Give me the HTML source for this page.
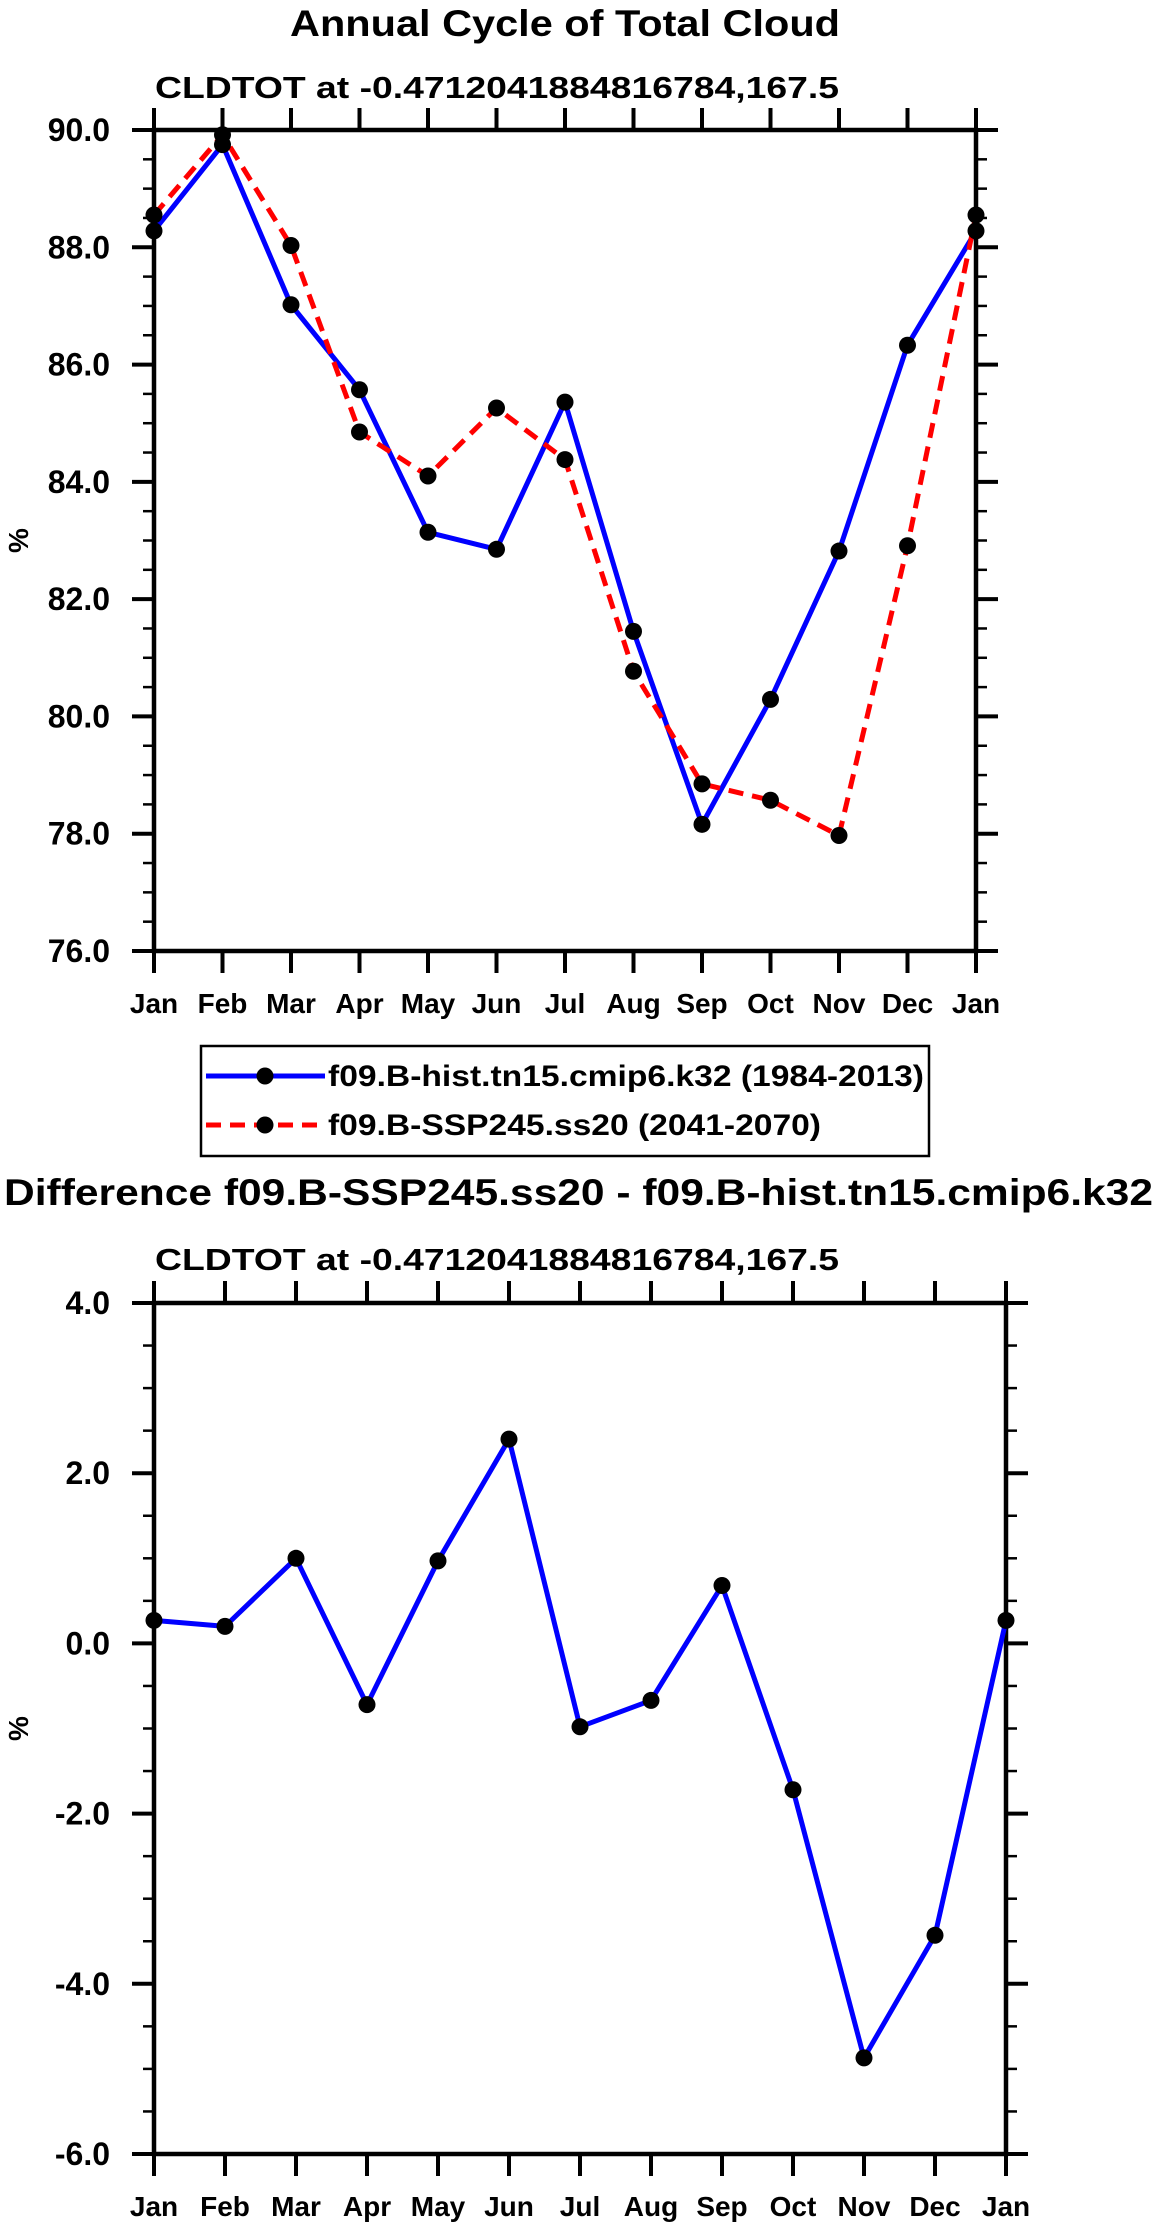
<!DOCTYPE html>
<html><head><meta charset="utf-8"><style>
html,body{margin:0;padding:0;background:#fff;}
svg{display:block;font-family:"Liberation Sans",sans-serif;font-weight:bold;}
</style></head><body>
<svg id="fig" width="1161" height="2231" viewBox="0 0 1161 2231" xmlns="http://www.w3.org/2000/svg">
<text x="565" y="36" font-size="37" text-anchor="middle" textLength="550" lengthAdjust="spacingAndGlyphs">Annual Cycle of Total Cloud</text>
<text x="155" y="98" font-size="31" textLength="684" lengthAdjust="spacingAndGlyphs">CLDTOT at -0.4712041884816784,167.5</text>
<g id="top"></g>
<g>
<rect x="201" y="1046" width="728" height="110" fill="none" stroke="#000" stroke-width="2.5"/>
<line x1="206" y1="1076" x2="325" y2="1076" stroke="#0000ff" stroke-width="5"/>
<circle cx="265" cy="1076" r="8.5" fill="#000"/>
<text x="328" y="1086" font-size="30" textLength="596" lengthAdjust="spacingAndGlyphs">f09.B-hist.tn15.cmip6.k32 (1984-2013)</text>
<line x1="206" y1="1125" x2="325" y2="1125" stroke="#ff0000" stroke-width="5" stroke-dasharray="15 9"/>
<circle cx="265" cy="1125" r="8.5" fill="#000"/>
<text x="328" y="1135" font-size="30" textLength="493" lengthAdjust="spacingAndGlyphs">f09.B-SSP245.ss20 (2041-2070)</text>
</g>
<text x="4" y="1205" font-size="37" textLength="1149" lengthAdjust="spacingAndGlyphs">Difference f09.B-SSP245.ss20 - f09.B-hist.tn15.cmip6.k32</text>
<text x="155" y="1270" font-size="31" textLength="684" lengthAdjust="spacingAndGlyphs">CLDTOT at -0.4712041884816784,167.5</text>
<g id="bot"></g>
</svg>
<script>
const months = ["Jan","Feb","Mar","Apr","May","Jun","Jul","Aug","Sep","Oct","Nov","Dec","Jan"];
const histValues = [88.28,89.75,87.02,85.57,83.14,82.85,85.36,81.45,78.16,80.29,82.82,86.33,88.28];
const sspValues = [88.55,89.92,88.03,84.85,84.1,85.26,84.38,80.77,78.85,78.57,77.97,82.91,88.55];
const diffValues = [0.27,0.2,1.0,-0.72,0.97,2.4,-0.98,-0.67,0.68,-1.72,-4.87,-3.43,0.27];
const topYTicks = [76,78,80,82,84,86,88,90];
const botYTicks = [-6,-4,-2,0,2,4];
const NS="http://www.w3.org/2000/svg";
function mk(parent,tag,attrs){const e=document.createElementNS(NS,tag);for(const k in attrs)e.setAttribute(k,attrs[k]);parent.appendChild(e);return e;}
function chart(g,L,R,T,B,ymin,ymax,yticks,series,prefix){
  const xs=i=>L+(R-L)*i/(months.length-1);
  const ys=v=>T+(ymax-v)/(ymax-ymin)*(B-T);
  // minor ticks
  for(let v=ymin;v<=ymax+1e-9;v+=0.5){
    const y=ys(v);
    const l1=mk(g,'line',{x1:L-11,y1:y,x2:L,y2:y,stroke:'#000','stroke-width':2.5});
    
    
    const l2=mk(g,'line',{x1:R,y1:y,x2:R+11,y2:y,stroke:'#000','stroke-width':2.5});
    
    
  }
  yticks.forEach(v=>{
    const y=ys(v);
    const l=mk(g,'line',{x1:L-22,y1:y,x2:L,y2:y,stroke:'#000','stroke-width':4});
    
    
    const r=mk(g,'line',{x1:R,y1:y,x2:R+22,y2:y,stroke:'#000','stroke-width':4});
    
    
    const t=mk(g,'text',{x:110,y:y+11,'font-size':32,'text-anchor':'end'});
    t.textContent=v.toFixed(1);
    
    
  });
  months.forEach((m,i)=>{
    const x=xs(i);
    const b=mk(g,'line',{x1:x,y1:B,x2:x,y2:B+22,stroke:'#000','stroke-width':4});
    
    
    const tp=mk(g,'line',{x1:x,y1:T-22,x2:x,y2:T,stroke:'#000','stroke-width':4});
    
    
    const t=mk(g,'text',{x:x,y:B+62,'font-size':28,'text-anchor':'middle'});
    t.textContent=m;
    
    
  });
  const fr=mk(g,'rect',{x:L,y:T,width:R-L,height:B-T,fill:'none',stroke:'#000','stroke-width':4.5});
  
  
  const yt=mk(g,'text',{x:0,y:0,'font-size':28,'text-anchor':'middle',transform:`translate(28,${(T+B)/2}) rotate(-90)`});
  yt.textContent='%';
  
  
  series.forEach(s=>{
    const pts=s.vals.map((v,i)=>xs(i)+','+ys(v)).join(' ');
    const pl=mk(g,'polyline',{points:pts,fill:'none',stroke:s.color,'stroke-width':5,'stroke-linejoin':'round'});
    if(s.dash)pl.setAttribute('stroke-dasharray',s.dash);
    
    
  });
  series.forEach(s=>{
    s.vals.forEach((v,i)=>{
      const c=mk(g,'circle',{cx:xs(i),cy:ys(v),r:8.5,fill:'#000'});
      
      
    });
  });
}
chart(document.getElementById('top'),154,976,130,951,76,90,topYTicks,
 [{vals:histValues,color:'#0000ff',name:'hist'},{vals:sspValues,color:'#ff0000',dash:'15 9',name:'ssp245'}],'top');
chart(document.getElementById('bot'),154,1006,1303,2154,-6,4,botYTicks,
 [{vals:diffValues,color:'#0000ff',name:'difference'}],'bottom');
</script>
</body></html>
